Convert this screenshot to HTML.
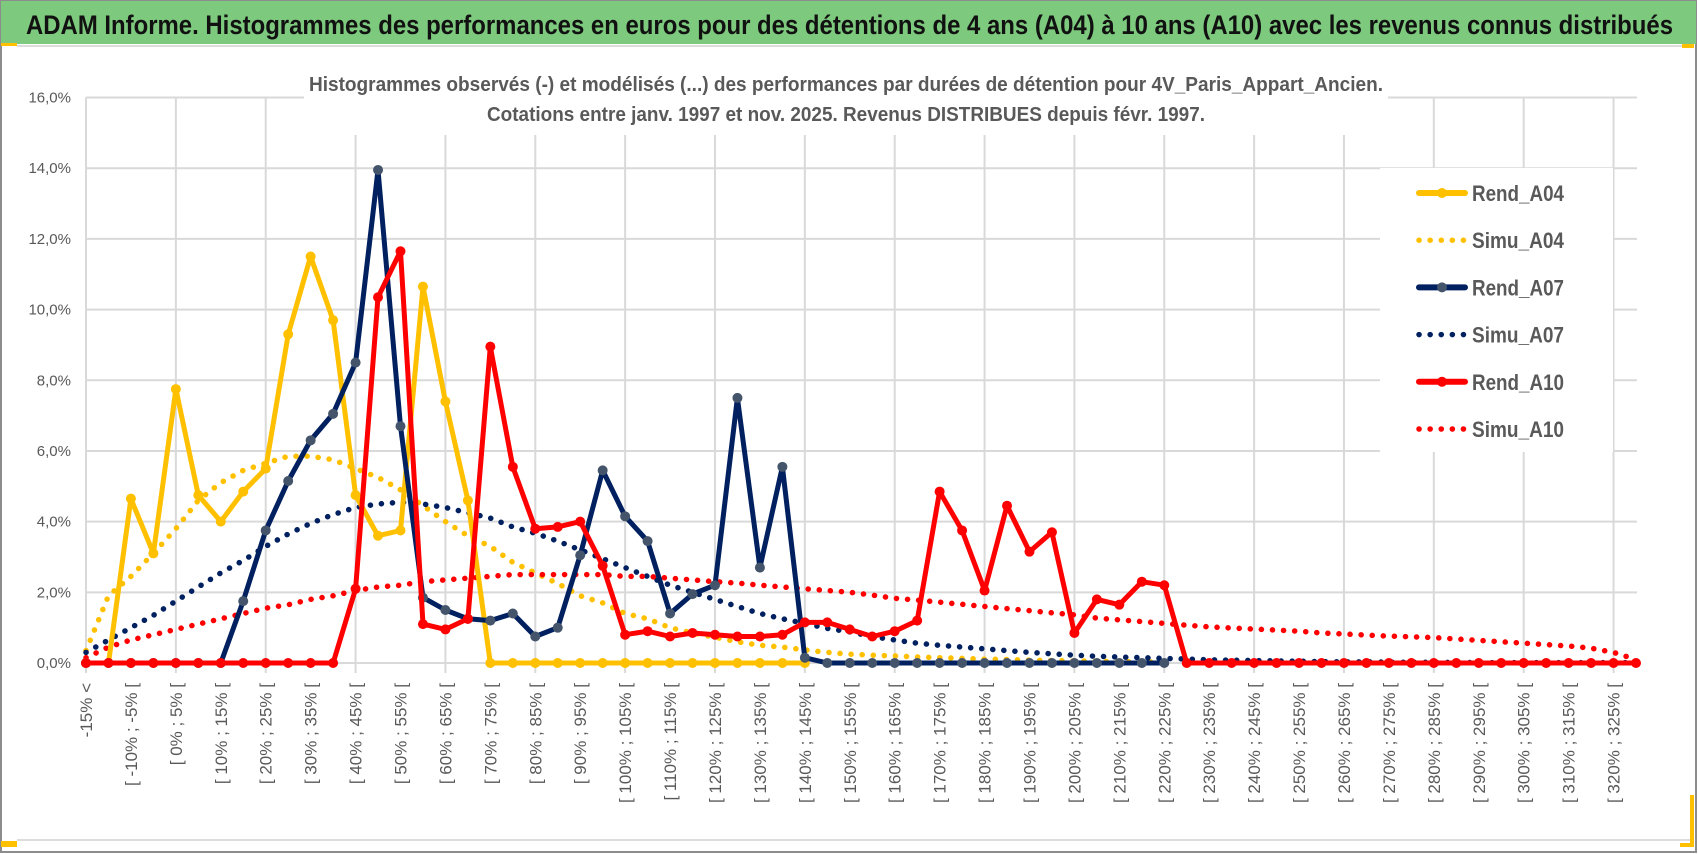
<!DOCTYPE html>
<html><head><meta charset="utf-8">
<style>
html,body{margin:0;padding:0;background:#fff;}
svg{display:block;}
text{font-family:"Liberation Sans",sans-serif;}
</style></head>
<body>
<svg id="chart" width="1698" height="854" viewBox="0 0 1698 854" xmlns="http://www.w3.org/2000/svg">
  <rect x="0" y="0" width="1698" height="854" fill="#fff"/>
  <rect x="1" y="1" width="1695" height="851" fill="none" stroke="#8c8c8c" stroke-width="2"/>
  <rect x="1" y="1" width="1695" height="43" fill="#7dc97d"/>
  <rect x="1" y="43" width="16" height="3" fill="#ffc000"/>
  <line x1="17" y1="46" x2="1690" y2="46" stroke="#dcdcdc" stroke-width="2"/>
  <text x="26" y="34" font-size="27" font-weight="bold" fill="#111" textLength="1647" lengthAdjust="spacingAndGlyphs">ADAM Informe. Histogrammes des performances en euros pour des détentions de 4 ans (A04) à 10 ans (A10) avec les revenus connus distribués</text>
  <rect x="1682" y="44" width="12" height="4" fill="#ffc000"/>
  <rect x="1690" y="795" width="4" height="52" fill="#ffc000"/>
  <rect x="1680" y="843" width="14" height="4" fill="#ffc000"/>
  <rect x="1" y="841" width="16" height="6" fill="#ffc000"/>
  <line x1="17" y1="840" x2="1690" y2="840" stroke="#dcdcdc" stroke-width="2"/>
  <g id="grid"></g>
  <rect x="304" y="55" width="1084" height="80" fill="#fff"/>
  <text x="846" y="91" font-size="20" font-weight="bold" fill="#595959" text-anchor="middle" textLength="1074" lengthAdjust="spacingAndGlyphs">Histogrammes observés (-) et modélisés (...) des performances par durées de détention pour 4V_Paris_Appart_Ancien.</text>
  <text x="846" y="121" font-size="20" font-weight="bold" fill="#595959" text-anchor="middle" textLength="718" lengthAdjust="spacingAndGlyphs">Cotations entre janv. 1997 et nov. 2025. Revenus DISTRIBUES depuis févr. 1997.</text>
  <g id="yaxis"></g>
  <g id="xaxis"></g>
  <g id="series"></g>
  <g id="legend">
    <rect x="1380" y="168" width="233" height="284" fill="#fff"/>
  </g>
</svg>
<script>
const yTicks = [0,2,4,6,8,10,12,14,16];
const yTickLabels = ["0,0%","2,0%","4,0%","6,0%","8,0%","10,0%","12,0%","14,0%","16,0%"];
const nCats = 70;
const rendA04 = [0,0,4.65,3.1,7.75,4.75,4.0,4.85,5.5,9.3,11.5,9.7,4.75,3.6,3.75,10.65,7.4,4.6,0,0,0,0,0,0,0,0,0,0,0,0,0,0,0];
const simuA04 = [0.35,1.9,2.45,3.1,3.8,4.6,5.1,5.45,5.65,5.85,5.85,5.75,5.5,5.25,4.9,4.45,4.0,3.6,3.3,2.85,2.55,2.25,1.9,1.7,1.4,1.25,1.0,0.85,0.73,0.6,0.5,0.45,0.37,0.3,0.25,0.22,0.2,0.17,0.15,0.13,0.11,0.1,0.08,0.07,0.06,0.05,0.04,0.03,0.02];
const rendA07 = [0,0,0,0,0,0,0,1.75,3.75,5.15,6.3,7.05,8.5,13.95,6.7,1.85,1.5,1.25,1.2,1.4,0.75,1.0,3.05,5.45,4.15,3.45,1.4,1.95,2.2,7.5,2.7,5.55,0.15,0,0,0,0,0,0,0,0,0,0,0,0,0,0,0,0];
const simuA07 = [0.3,0.65,1.0,1.35,1.75,2.15,2.55,2.9,3.3,3.65,3.95,4.2,4.4,4.5,4.55,4.5,4.4,4.25,4.1,3.85,3.67,3.45,3.2,2.95,2.7,2.45,2.2,2.0,1.8,1.6,1.4,1.25,1.12,0.98,0.88,0.75,0.65,0.56,0.5,0.45,0.4,0.35,0.3,0.26,0.22,0.19,0.17,0.15,0.13,0.11,0.09,0.08,0.07,0.06,0.05,0.04,0.035,0.03,0.025,0.02,0.02,0.015,0.01,0.01,0.01,0.01,0.01,0.01,0.01,0.01];
const rendA10 = [0,0,0,0,0,0,0,0,0,0,0,0,2.1,10.35,11.65,1.1,0.95,1.25,8.95,5.55,3.8,3.85,4.0,2.75,0.8,0.9,0.75,0.85,0.8,0.75,0.75,0.8,1.15,1.15,0.95,0.75,0.9,1.2,4.85,3.75,2.05,4.45,3.15,3.7,0.85,1.8,1.65,2.3,2.2,0,0,0,0,0,0,0,0,0,0,0,0,0,0,0,0,0,0,0,0,0];
const simuA10 = [0.15,0.45,0.65,0.8,0.95,1.1,1.25,1.4,1.55,1.65,1.8,1.9,2.05,2.15,2.2,2.3,2.35,2.4,2.45,2.5,2.5,2.5,2.5,2.5,2.45,2.45,2.4,2.35,2.3,2.26,2.2,2.15,2.1,2.05,2.0,1.92,1.83,1.78,1.72,1.66,1.6,1.54,1.48,1.42,1.36,1.27,1.22,1.17,1.12,1.07,1.02,0.99,0.96,0.93,0.9,0.85,0.82,0.79,0.76,0.74,0.72,0.68,0.64,0.6,0.56,0.52,0.48,0.42,0.3,0.1];
function catLabel(i){ if(i===0) return "-15% <"; const lo=-15+5*(i-1); return "[ "+lo+"% ; "+(lo+5)+"% ["; }

const NS="http://www.w3.org/2000/svg";
const X0=86, X1=1636, Y0=663, Y16=97.5;
function xs(i){ return X0 + (X1-X0)*i/(nCats-1); }
function ys(v){ return Y0 - (Y0-Y16)*v/16; }
function mk(tag, attrs, parent){ const e=document.createElementNS(NS,tag); for(const k in attrs) e.setAttribute(k,attrs[k]); parent.appendChild(e); return e; }

const grid=document.getElementById('grid');
yTicks.forEach(function(t){
  const l=mk('line',{x1:X0,x2:1637,y1:ys(t),y2:ys(t),stroke:'#d9d9d9','stroke-width':2},grid);
  
  
});
for(let i=0;i<nCats;i+=4){
  const l=mk('line',{x1:xs(i),x2:xs(i),y1:Y16,y2:Y0+10,stroke:'#d9d9d9','stroke-width':2},grid);
  
  
}
const ya=document.getElementById('yaxis');
yTicks.forEach(function(t,k){
  const tx=mk('text',{x:71,y:ys(t)+5,'font-size':15,fill:'#595959','text-anchor':'end'},ya);
  tx.textContent=yTickLabels[k];
  
  
});
const xa=document.getElementById('xaxis');
for(let i=0;i<nCats;i+=2){
  const x=xs(i)+6, y=683;
  const tx=mk('text',{x:x,y:y,'font-size':17,fill:'#595959','text-anchor':'end',transform:'rotate(-90 '+x+' '+y+')'},xa);
  tx.textContent=catLabel(i);
  
  
}
const sg=document.getElementById('series');
function dotted(arr,color,name){
  const pts=arr.map(function(v,i){return xs(i).toFixed(1)+','+ys(v).toFixed(1);}).join(' ');
  const p=mk('polyline',{points:pts,fill:'none',stroke:color,'stroke-width':5.5,'stroke-linecap':'round','stroke-dasharray':'0.1 11'},sg);
  
  
}
function solid(arr,color,mcolor,name){
  const pts=arr.map(function(v,i){return xs(i).toFixed(1)+','+ys(v).toFixed(1);}).join(' ');
  const p=mk('polyline',{points:pts,fill:'none',stroke:color,'stroke-width':5,'stroke-linejoin':'round'},sg);
  
  
  arr.forEach(function(v,i){
    const c=mk('circle',{cx:xs(i),cy:ys(v),r:5,fill:mcolor},sg);
    
    
  });
}
dotted(simuA04,'#ffc000','simu-a04-line');
dotted(simuA07,'#002060','simu-a07-line');
dotted(simuA10,'#ff0000','simu-a10-line');
solid(rendA04,'#ffc000','#ffc000','rend-a04-line');
solid(rendA07,'#002060','#44546a','rend-a07-line');
solid(rendA10,'#ff0000','#ff0000','rend-a10-line');

const lg=document.getElementById('legend');
const legNames=['Rend_A04','Simu_A04','Rend_A07','Simu_A07','Rend_A10','Simu_A10'];
const legColors=['#ffc000','#ffc000','#002060','#002060','#ff0000','#ff0000'];
const legMarker=['#ffc000',null,'#44546a',null,'#ff0000',null];
legNames.forEach(function(n,k){
  const y=193+k*47.2;
  const g=mk('g',{},lg);
  
  
  if(legMarker[k]){
    mk('line',{x1:1419,x2:1465,y1:y,y2:y,stroke:legColors[k],'stroke-width':6,'stroke-linecap':'round'},g);
    mk('circle',{cx:1442,cy:y,r:5,fill:legMarker[k]},g);
  } else {
    mk('line',{x1:1419,x2:1465,y1:y,y2:y,stroke:legColors[k],'stroke-width':5.5,'stroke-linecap':'round','stroke-dasharray':'0.1 11'},g);
  }
  const t=mk('text',{x:1472,y:y+8,'font-size':22,'font-weight':'bold',fill:'#595959',textLength:92,lengthAdjust:'spacingAndGlyphs'},g);
  t.textContent=n;
});
</script>
</body></html>
